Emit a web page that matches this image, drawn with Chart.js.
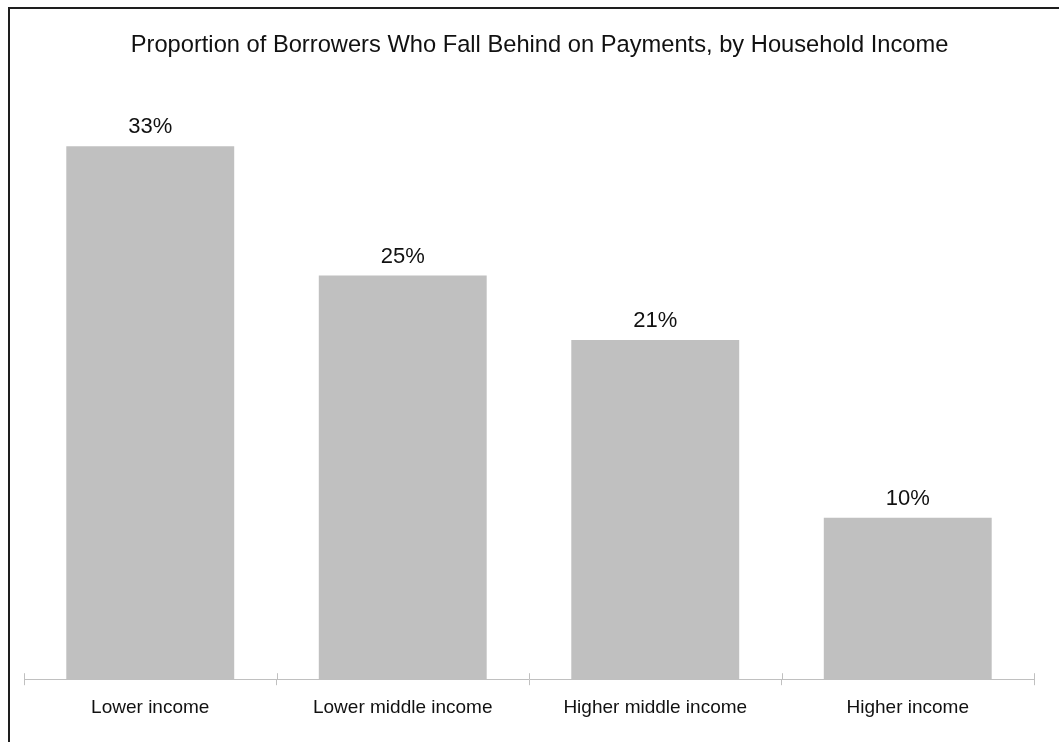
<!DOCTYPE html>
<html>
<head>
<meta charset="utf-8">
<title>Borrowers Falling Behind by Income</title>
<script src="https://cdn.jsdelivr.net/npm/chart.js@4.4.1/dist/chart.umd.min.js"></script>
<style>
    html, body { margin: 0; padding: 0; background: #fff; overflow: hidden; }
    #wrap { position: relative; width: 1059px; height: 742px; }
    #frame {
        position: absolute; left: 8px; top: 7px; right: -10px; bottom: -10px;
        border-left: 2px solid #1e1e1e; border-top: 2px solid #1e1e1e;
        pointer-events: none;
    }
    #incomeChart { position: absolute; left: 0; top: 0; }
</style>
</head>
<body>
<div id="wrap">
    <canvas id="incomeChart" width="1059" height="742"></canvas>
    <div id="frame"></div>
</div>
<script>
const incomeGroups = ['Lower income', 'Lower middle income', 'Higher middle income', 'Higher income'];
const behindShare = [33, 25, 21, 10];
const chartTitle = 'Proportion of Borrowers Who Fall Behind on Payments, by Household Income';

const FONT = "'Liberation Sans', Arial, sans-serif";
const AXIS_GREY = '#c0c0c0';

// title sits a little right of the canvas centre, so draw it by hand
const titleText = {
    id: 'titleText',
    afterDraw(chart) {
        const ctx = chart.ctx;
        ctx.save();
        ctx.font = '23.7px ' + FONT;
        ctx.fillStyle = '#111';
        ctx.textAlign = 'center';
        ctx.textBaseline = 'alphabetic';
        ctx.fillText(chartTitle, chart.width / 2 + 10, 52);
        ctx.restore();
    }
};

// tick marks cross the axis line, so draw the part above it here
const axisTicks = {
    id: 'axisTicks',
    afterDraw(chart) {
        const ctx = chart.ctx;
        const x = chart.scales.x;
        const y0 = chart.chartArea.bottom;
        const n = x.ticks.length;
        const half = (x.getPixelForTick(1) - x.getPixelForTick(0)) / 2;
        ctx.save();
        ctx.strokeStyle = AXIS_GREY;
        ctx.lineWidth = 1;
        ctx.beginPath();
        for (let i = 0; i <= n; i++) {
            const px = Math.round(x.getPixelForTick(0) - half + i * half * 2) + 0.5;
            ctx.moveTo(px, y0 - 6);
            ctx.lineTo(px, y0);
        }
        ctx.stroke();
        ctx.restore();
    }
};

// percentage above each bar
const valueLabels = {
    id: 'valueLabels',
    afterDatasetsDraw(chart) {
        const ctx = chart.ctx;
        const meta = chart.getDatasetMeta(0);
        ctx.save();
        ctx.font = '22px ' + FONT;
        ctx.fillStyle = '#111';
        ctx.textAlign = 'center';
        ctx.textBaseline = 'middle';
        meta.data.forEach((bar, i) => {
            ctx.fillText(behindShare[i] + '%', bar.x, bar.y - 19);
        });
        ctx.restore();
    }
};

const ctx = document.getElementById('incomeChart').getContext('2d');

const incomeChart = new Chart(ctx, {
    type: 'bar',
    data: {
        labels: incomeGroups,
        datasets: [{
            data: behindShare,
            backgroundColor: '#c0c0c0',
            borderWidth: 0,
            categoryPercentage: 1.0,
            barPercentage: 0.665
        }]
    },
    options: {
        responsive: false,
        animation: false,
        layout: {
            padding: { left: 24, right: 25, top: 114, bottom: 12 }
        },
        plugins: {
            legend: { display: false },
            tooltip: { enabled: false },
            title: { display: false }
        },
        scales: {
            x: {
                grid: {
                    drawOnChartArea: false,
                    tickLength: 6,
                    color: AXIS_GREY,
                    offset: true
                },
                border: { color: AXIS_GREY },
                ticks: {
                    color: '#111',
                    padding: 11,
                    font: { family: FONT, size: 19 }
                }
            },
            y: {
                display: false,
                min: 0,
                max: 35
            }
        }
    },
    plugins: [titleText, axisTicks, valueLabels]
});
</script>
</body>
</html>
